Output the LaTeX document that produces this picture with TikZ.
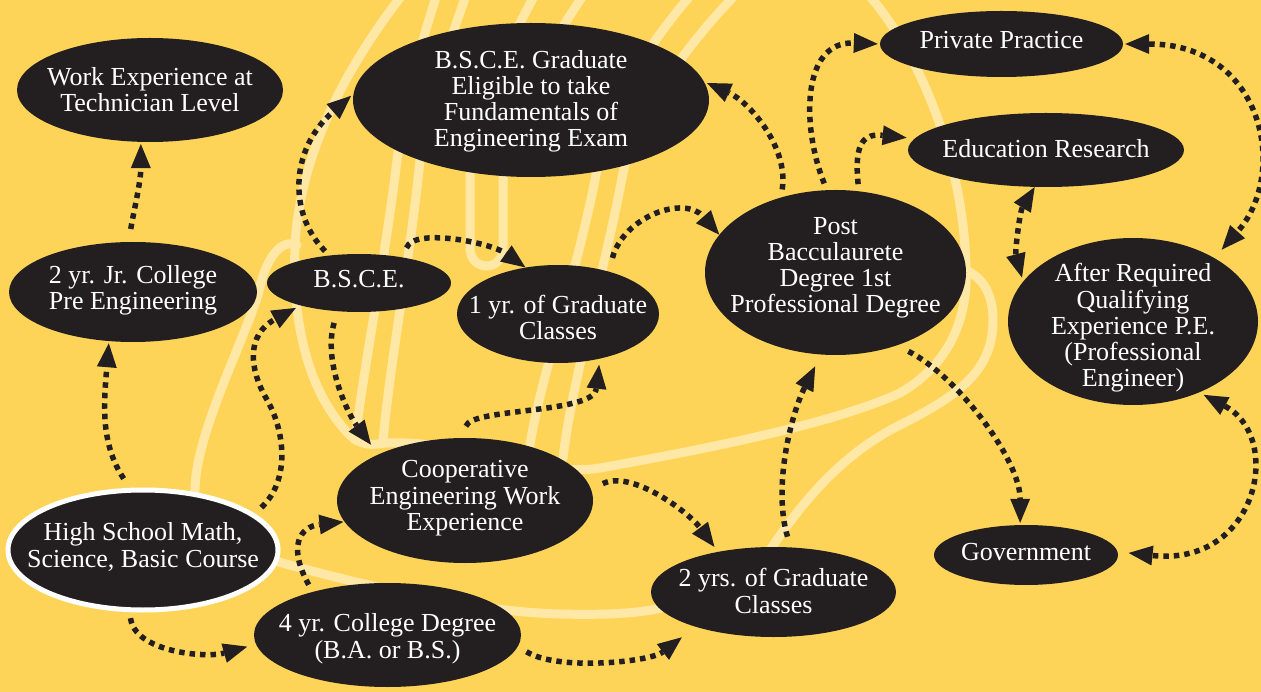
\documentclass[tikz,border=0pt]{standalone}
\usepackage{fontspec}
\setmainfont{Liberation Serif}
\usetikzlibrary{shapes.geometric,arrows.meta}
\definecolor{bg}{RGB}{254,212,88}
\definecolor{pale}{RGB}{255,232,166}
\definecolor{ink}{RGB}{35,31,32}
\newcommand\bublbl[2]{\makebox[0pt]{\raisebox{#1}[0pt][0pt]{\begin{tabular}[b]{@{}c@{}}#2\end{tabular}}}}
\tikzset{bigtri/.tip={Triangle[length=24pt,width=20pt,line width=0pt]}}
\begin{document}
\begin{tikzpicture}[x=1pt,y=-1pt,
  bub/.style={ellipse, fill=ink, inner sep=0pt, text=white, font=\fontsize{26}{26.3}\selectfont},
  flow/.style={draw=ink, line width=5.5pt, dash pattern=on 5.5pt off 5pt, -bigtri},
  both/.style={flow, bigtri-bigtri},
  deco/.style={draw=pale, line width=9pt, line cap=round}]
\useasboundingbox (0,0) rectangle (1261,692);
\fill[bg] (0,0) rectangle (1261,692);
\begin{scope}
\clip (0,0) rectangle (1261,692);
\draw[deco] (410,-15) .. controls (350,60) and (300,150) .. (295,245) .. controls (292,330) and (310,390) .. (345,430) .. controls (355,442) and (365,447) .. (385,443);
\draw[deco] (195,495) .. controls (193,440) and (240,350) .. (258,295) .. controls (265,260) and (280,238) .. (297,245);
\draw[deco] (440,-15) .. controls (415,60) and (402,120) .. (397,160) .. controls (385,260) and (365,360) .. (355,440);
\draw[deco] (470,-15) .. controls (442,60) and (425,120) .. (420,160) .. controls (410,260) and (390,360) .. (383,442);
\draw[deco] (540,-15) .. controls (500,60) and (470,120) .. (470,180) -- (470,248) .. controls (470,272) and (503,272) .. (503,248) -- (503,180) .. controls (503,120) and (540,60) .. (590,-15);
\draw[deco] (700,-15) .. controls (640,50) and (605,120) .. (595,180) .. controls (575,280) and (540,380) .. (530,445);
\draw[deco] (745,-15) .. controls (680,50) and (635,120) .. (623,173) .. controls (605,270) and (572,380) .. (563,458);
\draw[deco] (860,-15) .. controls (930,60) and (965,180) .. (966,270) .. controls (968,330) and (940,370) .. (900,393) .. controls (830,425) and (700,450) .. (600,468) .. controls (540,478) and (470,440) .. (385,443);
\draw[deco] (950,265) .. controls (975,270) and (993,285) .. (993,320) .. controls (993,370) and (960,395) .. (900,425) .. controls (850,450) and (810,490) .. (770,550);
\draw[deco] (275,561) .. controls (380,590) and (480,612) .. (560,614) .. controls (600,615) and (640,614) .. (665,607);
\end{scope}
% nodes
\node[bub, minimum width=266pt, minimum height=104pt] (wexp) at (150,90) {\bublbl{-22pt}{Work Experience at\\Technician Level}};
\node[bub, minimum width=356pt, minimum height=154pt] (bgrad) at (531,100) {\bublbl{-47pt}{B.S.C.E. Graduate\\Eligible to take\\Fundamentals of\\Engineering Exam}};
\node[bub, minimum width=243pt, minimum height=66pt] (priv) at (1001.5,44) {\bublbl{-5pt}{Private Practice}};
\node[bub, minimum width=276pt, minimum height=74pt] (edu) at (1046,150) {\bublbl{-8pt}{Education Research}};
\node[bub, minimum width=248pt, minimum height=100pt] (jr) at (133,292) {\bublbl{-18pt}{2 yr. Jr. College\\Pre Engineering}};
\node[bub, minimum width=184pt, minimum height=58pt] (bsce) at (359,283) {\bublbl{-5pt}{B.S.C.E.}};
\node[bub, minimum width=202pt, minimum height=98pt] (g1) at (558,314) {\bublbl{-26pt}{1 yr. of Graduate\\Classes}};
\node[bub, minimum width=261pt, minimum height=165pt] (post) at (835.5,272.5) {\bublbl{-40.5pt}{Post\\Bacculaurete\\Degree 1st\\Professional Degree}};
\node[bub, minimum width=250pt, minimum height=167pt] (after) at (1133,321.5) {\bublbl{-65.5pt}{After Required\\Qualifying\\Experience P.E.\\(Professional\\Engineer)}};
\node[bub, minimum width=256pt, minimum height=125pt] (coop) at (465,500.5) {\bublbl{-30pt}{Cooperative\\Engineering Work\\Experience}};
\node[bub, draw=white, line width=5pt, minimum width=270pt, minimum height=120pt] (hs) at (143,550) {\bublbl{-17pt}{High School Math,\\Science, Basic Course}};
\node[bub, minimum width=267pt, minimum height=104pt] (c4) at (387.5,635) {\bublbl{-23pt}{4 yr. College Degree\\(B.A. or B.S.)}};
\node[bub, minimum width=245pt, minimum height=90pt] (g2) at (773.5,592) {\bublbl{-21pt}{2 yrs. of Graduate\\Classes}};
\node[bub, minimum width=184pt, minimum height=60pt] (gov) at (1026,555) {\bublbl{-5pt}{Government}};
% connectors
\draw[flow, shorten <=13pt, shorten >=2pt] (jr.95) .. controls +(5,-30) and +(0,40) .. (wexp.260);
\draw[flow, shorten <=11pt, shorten >=2pt] (hs.102) .. controls +(-30,-45) and +(-5,60) .. (jr.244);
\draw[flow, shorten <=9pt, shorten >=5pt] (hs.18) .. controls +(36,-34) and +(19,32) .. (266,398) .. controls +(-16,-28) and +(-55,30) .. (bsce.201);
\draw[flow, shorten <=6pt, shorten >=3pt] (bsce.137) .. controls +(-40,-40) and +(-65,57) .. (bgrad.178);
\draw[flow, shorten <=10pt, shorten >=0pt] (bsce.30) .. controls +(10,-30) and +(-35,-25) .. (g1.125);
\draw[flow, shorten <=12pt, shorten >=12pt] (bsce.233) .. controls +(-15,50) and +(-30,-40) .. (coop.152);
\draw[flow, shorten <=6pt, shorten >=9pt] (hs.258) .. controls +(5,40) and +(-50,14) .. (c4.184);
\draw[flow, shorten <=8pt, shorten >=1pt] (c4.150) .. controls +(-25,-45) and +(-45,5) .. (coop.190);
\draw[flow, shorten <=12pt, shorten >=6pt] (coop.92) .. controls +(8,-30) and +(-6,55) .. (g1.313);
\draw[flow, shorten <=10pt, shorten >=17pt] (c4.355) .. controls +(40,25) and +(-45,35) .. (g2.204);
\draw[flow, shorten <=13pt, shorten >=6pt] (coop.5) .. controls +(40,-20) and +(-30,-40) .. (g2.144);
\draw[flow, shorten <=11pt, shorten >=13pt] (g2.69) .. controls +(-18,-60) and +(-30,60) .. (post.260);
\draw[flow, shorten <=14pt, shorten >=0pt] (g1.40) .. controls +(15,-55) and +(-35,-40) .. (post.162);
\draw[flow, shorten <=8pt, shorten >=3pt] (post.126) .. controls +(8,-50) and +(45,20) .. (bgrad.6);
\draw[flow, shorten <=7pt, shorten >=2pt] (post.96) .. controls +(-25,-62) and +(-79,-3) .. (priv.180);
\draw[flow, shorten <=7pt, shorten >=8pt] (post.74) .. controls +(-5,-50) and +(-50,-5) .. (edu.175);
\draw[both, shorten <=0pt, shorten >=4pt] (edu.253) .. controls +(-15,25) and +(-8,-30) .. (after.160);
\draw[both, shorten <=2pt, shorten >=11pt] (priv.0) .. controls +(140,0) and +(75,-85) .. (after.38);
\draw[flow, shorten <=13pt, shorten >=2pt] (post.310) .. controls +(60,30) and +(0,-65) .. (gov.101);
\draw[both, shorten <=5pt, shorten >=11pt] (after.313) .. controls +(85,45) and +(140,15) .. (gov.2);
\end{tikzpicture}
\end{document}
